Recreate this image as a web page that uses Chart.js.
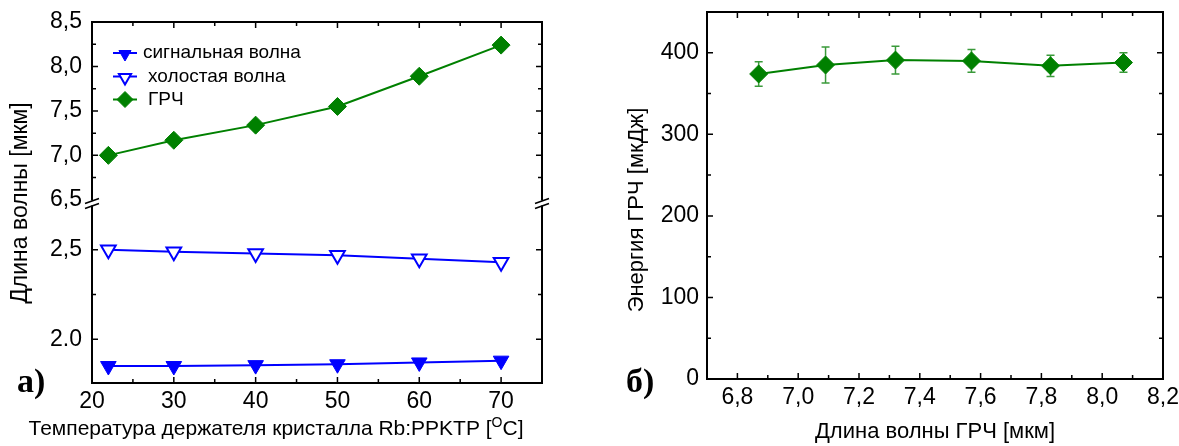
<!DOCTYPE html>
<html><head><meta charset="utf-8">
<script src="https://cdn.jsdelivr.net/npm/chart.js@4.4.1/dist/chart.umd.min.js"></script>
<style>
html,body{margin:0;padding:0;background:#fff;width:1179px;height:446px;overflow:hidden;}
#cl{position:absolute;left:0;top:0;}
#cr{position:absolute;left:590px;top:0;}
</style></head><body>
<canvas id="cl" width="590" height="446"></canvas>
<canvas id="cr" width="589" height="446"></canvas>
<script>
// ---- Panel a) data ----
const temps = [22, 30, 40, 50, 60, 70];
const signalWl = [1.85, 1.85, 1.855, 1.86, 1.87, 1.88];
const idlerWl = [2.50, 2.49, 2.48, 2.47, 2.45, 2.43];
const lwirWl = [7.00, 7.17, 7.34, 7.55, 7.89, 8.24];
const xTicksL = [20, 30, 40, 50, 60, 70];
const xMinorL = [25, 35, 45, 55, 65];
const yTopTicks = [6.5, 7.0, 7.5, 8.0, 8.5];
const yTopLabels = ['6,5', '7,0', '7,5', '8,0', '8,5'];
const yTopMinor = [6.75, 7.25, 7.75, 8.25];
const yBotTicks = [2.0, 2.5];
const yBotLabels = ['2.0', '2,5'];
const yBotMinor = [2.25];
const seriesNames = ['сигнальная волна', 'холостая волна', 'ГРЧ'];

// ---- Panel б) data ----
const energyWl = [6.87, 7.09, 7.32, 7.57, 7.83, 8.07];
const energy = [374, 385, 391, 390, 384, 388];
const energyErr = [15, 22, 17, 14, 13, 12];
const xTicksR = [6.8, 7.0, 7.2, 7.4, 7.6, 7.8, 8.0, 8.2];
const xLabelsR = ['6,8', '7,0', '7,2', '7,4', '7,6', '7,8', '8,0', '8,2'];
const xMinorR = [6.9, 7.1, 7.3, 7.5, 7.7, 7.9, 8.1];
const yTicksR = [0, 100, 200, 300, 400];
const yMinorR = [50, 150, 250, 350];

const GREEN = '#008000', BLUE = '#0000ff', ERR = '#3a9a3a';
const FONT = "'Liberation Sans', Arial, sans-serif";
const SERIF = "'Liberation Serif', 'Times New Roman', serif";
const tickFont = {family: FONT, size: 23};

function setTicks(values) { return s => { s.ticks = values.map(v => ({value: v})); }; }
function pts(xs, ys) { return xs.map((x, i) => ({x: x, y: ys[i]})); }
function fitY(w) { return s => { s.width = w; s.paddingTop = 0; s.paddingBottom = 0; }; }
function fitX(h) { return s => { s.height = h; s.paddingLeft = 0; s.paddingRight = 0; }; }

function drawTicks(ctx, a, xs, xMaj, xMin, yAx) {
  ctx.strokeStyle = '#000';
  ctx.lineWidth = 1.5;
  ctx.beginPath();
  const MJ = 6, MN = 4;
  xMaj.forEach(v => { const p = xs.getPixelForValue(v); if (p > a.left + 2 && p < a.right - 2) { ctx.moveTo(p, a.bottom); ctx.lineTo(p, a.bottom - MJ); ctx.moveTo(p, a.top); ctx.lineTo(p, a.top + MJ); } });
  xMin.forEach(v => { const p = xs.getPixelForValue(v); ctx.moveTo(p, a.bottom); ctx.lineTo(p, a.bottom - MN); ctx.moveTo(p, a.top); ctx.lineTo(p, a.top + MN); });
  yAx.forEach(([sc, maj, mn]) => {
    maj.forEach(v => { const p = sc.getPixelForValue(v); if (p > sc.top + 3 && p < sc.bottom - 3) { ctx.moveTo(a.left, p); ctx.lineTo(a.left + MJ, p); ctx.moveTo(a.right, p); ctx.lineTo(a.right - MJ, p); } });
    mn.forEach(v => { const p = sc.getPixelForValue(v); ctx.moveTo(a.left, p); ctx.lineTo(a.left + MN, p); ctx.moveTo(a.right, p); ctx.lineTo(a.right - MN, p); });
  });
  ctx.stroke();
}

function drawFrame(ctx, a) {
  ctx.strokeStyle = '#000'; ctx.lineWidth = 2;
  ctx.beginPath();
  ctx.moveTo(a.left - 1, a.top); ctx.lineTo(a.right + 1, a.top);
  ctx.moveTo(a.left - 1, a.bottom); ctx.lineTo(a.right + 1, a.bottom);
  ctx.moveTo(a.left, a.top); ctx.lineTo(a.left, a.bottom);
  ctx.moveTo(a.right, a.top); ctx.lineTo(a.right, a.bottom);
  ctx.stroke();
}

const leftDecor = {
  id: 'leftDecor',
  afterDraw(chart) {
    const {ctx, chartArea: a, scales} = chart;
    ctx.save();
    drawFrame(ctx, a);
    drawTicks(ctx, a, scales.x, xTicksL, xMinorL,
      [[scales.yTop, yTopTicks, yTopMinor], [scales.yBot, yBotTicks, yBotMinor]]);
    // axis break marks
    const y0 = scales.yTop.bottom;
    [a.left, a.right].forEach(x => {
      ctx.fillStyle = '#fff';
      ctx.fillRect(x - 2, y0 - 2, 4, 5);
      ctx.strokeStyle = '#000'; ctx.lineWidth = 1.6;
      ctx.beginPath();
      ctx.moveTo(x - 7, y0 + 1); ctx.lineTo(x + 7, y0 - 4);
      ctx.moveTo(x - 7, y0 + 6); ctx.lineTo(x + 7, y0 + 1);
      ctx.stroke();
    });
    // y title
    ctx.fillStyle = '#000';
    ctx.font = `23px ${FONT}`;
    ctx.textAlign = 'center'; ctx.textBaseline = 'middle';
    ctx.save(); ctx.translate(21, 203); ctx.rotate(-Math.PI / 2);
    ctx.fillText('Длина волны [мкм]', 0, 0); ctx.restore();
    // x title with superscript
    const t1 = 'Температура держателя кристалла Rb:PPKTP [', t2 = 'O', t3 = 'C]';
    ctx.textAlign = 'left'; ctx.textBaseline = 'alphabetic';
    ctx.font = `21px ${FONT}`; const w1 = ctx.measureText(t1).width, w3 = ctx.measureText(t3).width;
    ctx.font = `14px ${FONT}`; const w2 = ctx.measureText(t2).width;
    let x = 276 - (w1 + w2 + w3) / 2;
    ctx.font = `21px ${FONT}`; ctx.fillText(t1, x, 435); x += w1;
    ctx.font = `14px ${FONT}`; ctx.fillText(t2, x, 427); x += w2;
    ctx.font = `21px ${FONT}`; ctx.fillText(t3, x, 435);
    // panel label
    ctx.font = `bold 34px ${SERIF}`;
    ctx.fillText('а)', 17, 392);
    // legend
    const ds = chart.data.datasets;
    const rows = [53, 76.5, 99.5], tx = [143, 148, 148];
    const radii = [7, 7, 8];
    ds.forEach((d, i) => {
      const y = rows[i];
      ctx.strokeStyle = d.borderColor; ctx.lineWidth = 2;
      ctx.beginPath(); ctx.moveTo(113, y); ctx.lineTo(137, y); ctx.stroke();
      ctx.fillStyle = d.pointBackgroundColor; ctx.strokeStyle = d.borderColor; ctx.lineWidth = d.pointBorderWidth;
      Chart.helpers.drawPoint(ctx, {pointStyle: d.pointStyle, rotation: d.pointRotation || 0, radius: radii[i], borderWidth: d.pointBorderWidth}, 125, i < 2 ? y + 1 : y);
      ctx.fillStyle = '#000'; ctx.font = `19px ${FONT}`; ctx.textBaseline = 'middle';
      ctx.fillText(seriesNames[i], tx[i], y);
    });
    ctx.restore();
  }
};

const noGrid = {display: false, drawTicks: false};

const lc = new Chart(document.getElementById('cl'), {
  type: 'line',
  data: {
    datasets: [
      {label: seriesNames[0], data: pts(temps, signalWl), yAxisID: 'yBot', borderColor: BLUE, borderWidth: 2,
       pointStyle: 'triangle', pointRotation: 180, pointRadius: 9, pointBackgroundColor: BLUE, pointBorderColor: BLUE, pointBorderWidth: 1, clip: false},
      {label: seriesNames[1], data: pts(temps, idlerWl), yAxisID: 'yBot', borderColor: BLUE, borderWidth: 2,
       pointStyle: 'triangle', pointRotation: 180, pointRadius: 8.5, pointBackgroundColor: '#fff', pointBorderColor: BLUE, pointBorderWidth: 2, clip: false},
      {label: seriesNames[2], data: pts(temps, lwirWl), yAxisID: 'yTop', borderColor: GREEN, borderWidth: 2,
       pointStyle: 'rectRot', pointRadius: 9, pointBackgroundColor: GREEN, pointBorderColor: GREEN, pointBorderWidth: 1, clip: false}
    ]
  },
  options: {
    responsive: false, animation: false,
    layout: {padding: {left: 0, right: 48, top: 22, bottom: 0}, autoPadding: false},
    plugins: {legend: {display: false}, tooltip: {enabled: false}},
    scales: {
      x: {type: 'linear', min: 20, max: 75, afterBuildTicks: setTicks(xTicksL),
          afterFit: fitX(63),
          grid: noGrid, border: {display: false},
          ticks: {font: tickFont, color: '#000', padding: 5, maxRotation: 0, autoSkip: false, callback: v => String(v)}},
      yBot: {type: 'linear', position: 'left', stack: 'wl', stackWeight: 1, min: 1.755, max: 2.765,
          afterBuildTicks: setTicks(yBotTicks), afterFit: fitY(92),
          grid: noGrid, border: {display: false},
          ticks: {font: tickFont, color: '#000', padding: 10, autoSkip: false, callback: (v, i) => yBotLabels[i]}},
      yTop: {type: 'linear', position: 'left', stack: 'wl', stackWeight: 1, min: 6.47, max: 8.5,
          afterBuildTicks: setTicks(yTopTicks), afterFit: fitY(92),
          grid: noGrid, border: {display: false},
          ticks: {font: tickFont, color: '#000', padding: 10, autoSkip: false, callback: (v, i) => yTopLabels[i]}}
    }
  },
  plugins: [leftDecor]
});

const rightDecor = {
  id: 'rightDecor',
  beforeDatasetsDraw(chart) {
    const {ctx, scales} = chart;
    ctx.save();
    ctx.strokeStyle = ERR; ctx.lineWidth = 1.5;
    ctx.beginPath();
    energyWl.forEach((w, i) => {
      const px = scales.x.getPixelForValue(w);
      const hi = scales.y.getPixelForValue(energy[i] + energyErr[i]);
      const lo = scales.y.getPixelForValue(energy[i] - energyErr[i]);
      ctx.moveTo(px, hi); ctx.lineTo(px, lo);
      ctx.moveTo(px - 4, hi); ctx.lineTo(px + 4, hi);
      ctx.moveTo(px - 4, lo); ctx.lineTo(px + 4, lo);
    });
    ctx.stroke();
    ctx.restore();
  },
  afterDraw(chart) {
    const {ctx, chartArea: a, scales} = chart;
    ctx.save();
    drawFrame(ctx, a);
    drawTicks(ctx, a, scales.x, xTicksR, xMinorR, [[scales.y, yTicksR, yMinorR]]);
    ctx.fillStyle = '#000';
    ctx.font = `22px ${FONT}`;
    ctx.textAlign = 'center'; ctx.textBaseline = 'middle';
    ctx.save(); ctx.translate(47, 210); ctx.rotate(-Math.PI / 2);
    ctx.fillText('Энергия ГРЧ [мкДж]', 0, 0); ctx.restore();
    ctx.textBaseline = 'alphabetic';
    ctx.fillText('Длина волны ГРЧ [мкм]', 345, 438);
    ctx.textAlign = 'left';
    ctx.font = `bold 34px ${SERIF}`;
    ctx.fillText('б)', 36, 392);
    ctx.restore();
  }
};

const rc = new Chart(document.getElementById('cr'), {
  type: 'line',
  data: {
    datasets: [
      {label: 'ГРЧ', data: pts(energyWl, energy), borderColor: GREEN, borderWidth: 2,
       pointStyle: 'rectRot', pointRadius: 9, pointBackgroundColor: GREEN, pointBorderColor: GREEN, pointBorderWidth: 1, clip: false}
    ]
  },
  options: {
    responsive: false, animation: false,
    layout: {padding: {left: 0, right: 16, top: 12, bottom: 0}, autoPadding: false},
    plugins: {legend: {display: false}, tooltip: {enabled: false}},
    scales: {
      x: {type: 'linear', min: 6.7, max: 8.2, afterBuildTicks: setTicks(xTicksR),
          afterFit: fitX(67),
          grid: noGrid, border: {display: false},
          ticks: {font: tickFont, color: '#000', padding: 5, maxRotation: 0, autoSkip: false,
                  callback: v => xLabelsR[xTicksR.findIndex(t => Math.abs(t - v) < 1e-6)]}},
      y: {type: 'linear', min: 0, max: 450, afterBuildTicks: setTicks(yTicksR),
          afterFit: fitY(117),
          grid: noGrid, border: {display: false},
          ticks: {font: tickFont, color: '#000', padding: 8, autoSkip: false, callback: v => String(v)}}
    }
  },
  plugins: [rightDecor]
});
</script>
</body></html>
